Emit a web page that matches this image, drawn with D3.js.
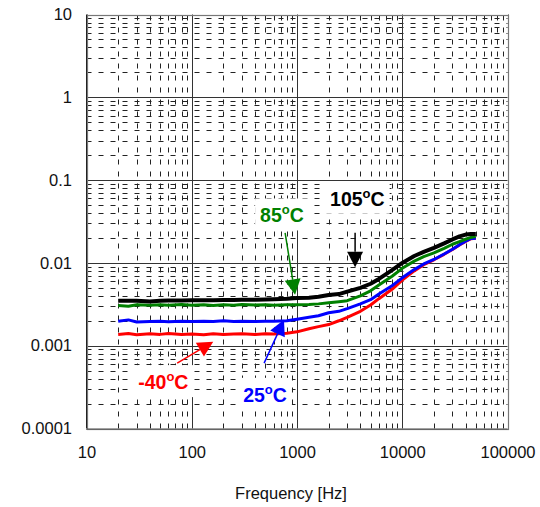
<!DOCTYPE html>
<html>
<head>
<meta charset="utf-8">
<script src="https://cdn.jsdelivr.net/npm/d3@7"></script>
<style>
html,body{margin:0;padding:0;background:#fff;}
svg{display:block;font-family:Arial,"Liberation Sans",sans-serif;}
</style>
</head>
<body>
<svg id="chart" width="540" height="507"></svg>
<script>
// ---- data ----
const freqs = [20,25,30,40,50,60,80,100,130,160,200,250,300,400,500,600,800,
  1000,1300,1600,2000,2500,3000,4000,5000,6000,8000,10000,13000,16000,20000,25000,30000,35000,40000,45000,50000];
const thd105 = [0.00348,0.00350,0.00349,0.00342,0.00350,0.00351,0.00352,0.00353,0.00354,0.00355,0.00356,0.00357,0.00358,0.00360,0.00362,0.00364,0.00368,
  0.00376,0.0038,0.0039,0.0041,0.0042,0.0045,0.0050,0.0056,0.0064,0.0082,0.0100,0.0121,0.0136,0.0152,0.0172,0.0192,0.0209,0.0220,0.0223,0.0223];
const thd85 = [0.00305,0.00300,0.00312,0.00308,0.00313,0.00307,0.00314,0.00309,0.00312,0.00306,0.00313,0.00309,0.00314,0.00310,0.00313,0.00309,0.00312,
  0.00312,0.00315,0.0032,0.0033,0.0034,0.0035,0.0040,0.0046,0.0054,0.0069,0.0086,0.0105,0.0119,0.0132,0.0150,0.0168,0.0181,0.0193,0.0203,0.0209];
const thd25 = [0.00197,0.00205,0.00193,0.00196,0.00197,0.00195,0.00197,0.00196,0.00198,0.00196,0.00200,0.00196,0.00197,0.00196,0.00197,0.00197,0.00200,
  0.00209,0.0022,0.0023,0.0025,0.0026,0.0028,0.0032,0.0036,0.0042,0.0053,0.0066,0.0083,0.0097,0.0110,0.0128,0.0146,0.0166,0.0183,0.0197,0.0199];
const thdM40 = [0.00137,0.00140,0.00136,0.00139,0.00137,0.00140,0.00137,0.00138,0.00136,0.00139,0.00137,0.00138,0.00139,0.00137,0.00139,0.00138,0.00141,
  0.00147,0.0016,0.0017,0.0018,0.0020,0.0022,0.0026,0.0031,0.0037,0.0048,0.0062,0.0080,0.0095,0.0109,0.0127,0.0145,0.0165,0.0182,0.0196,0.0198];

const xTickValues = [10,100,1000,10000,100000];
const xTickLabels = ["10","100","1000","10000","100000"];
const yTickValues = [0.0001,0.001,0.01,0.1,1,10];
const yTickLabels = ["0.0001","0.001","0.01","0.1","1","10"];

const seriesNames = ["-40","25","85","105"];
const seriesColors = ["#ff0000","#0000ff","#008000","#000000"];
const seriesValues = [thdM40, thd25, thd85, thd105];

// annotation labels (text anchor in data units) and arrows (from -> to, data units)
const annotLabel = ["-40","25","85","105"];
const annotTextF = [31, 308, 446, 2061];
const annotTextV = [0.000299, 0.00021, 0.0308, 0.0490];
const arrowFromF = [72.7, 487, 771, 3565];
const arrowFromV = [0.000616, 0.000616, 0.0231, 0.0231];
const arrowToF = [160, 752, 959, 3565];
const arrowToV = [0.001114, 0.002055, 0.00412, 0.00889];

// ---- layout ----
const svg = d3.select("#chart");
const L = 86.5, R = 507.5, T = 14.5, B = 428.5;
const x = d3.scaleLog().domain([10,100000]).range([L,R]);
const y = d3.scaleLog().domain([0.0001,10]).range([B,T]);

// minor grid
const minorX = [], minorY = [];
for (let d = 10; d < 100000; d *= 10) for (let k = 2; k <= 9; k++) minorX.push(d*k);
for (let d = 0.0001; d < 9; d *= 10) for (let k = 2; k <= 9; k++) minorY.push(d*k);

const g = svg.append("g");
g.selectAll(".mh").data(minorY).join("line")
  .attr("x1", L).attr("x2", R)
  .attr("y1", d => Math.round(y(d))+0.5).attr("y2", d => Math.round(y(d))+0.5)
  .attr("stroke", "#222").attr("stroke-width", 1).attr("stroke-dasharray", "5,7");
g.selectAll(".mv").data(minorX).join("line")
  .attr("y1", B).attr("y2", T)
  .attr("x1", d => Math.round(x(d))+0.5).attr("x2", d => Math.round(x(d))+0.5)
  .attr("stroke", "#222").attr("stroke-width", 1).attr("stroke-dasharray", "5,7");
// major grid
g.selectAll(".Mh").data(yTickValues).join("line")
  .attr("x1", L).attr("x2", R)
  .attr("y1", d => Math.round(y(d))+0.5).attr("y2", d => Math.round(y(d))+0.5)
  .attr("stroke", "#333").attr("stroke-width", 1);
g.selectAll(".Mv").data(xTickValues).join("line")
  .attr("y1", B).attr("y2", T)
  .attr("x1", d => Math.round(x(d))+0.5).attr("x2", d => Math.round(x(d))+0.5)
  .attr("stroke", "#333").attr("stroke-width", 1);
// frame
svg.append("rect").attr("x", Math.round(L)+0.5).attr("y", Math.round(T)+0.5)
  .attr("width", Math.round(R)-Math.round(L)).attr("height", Math.round(B)-Math.round(T))
  .attr("fill","none").attr("stroke","#777").attr("stroke-width",1.2);
svg.append("line").attr("x1",L).attr("x2",L).attr("y1",T).attr("y2",B).attr("stroke","#222");
svg.append("line").attr("x1",L).attr("x2",R).attr("y1",B+0.5).attr("y2",B+0.5).attr("stroke","#555");

// axes
const yAxis = d3.axisLeft(y).tickValues(yTickValues).tickSize(0).tickPadding(14.5)
  .tickFormat((d,i) => yTickLabels[i]);
const ya = svg.append("g").attr("transform", `translate(${L},0)`).call(yAxis);
const xAxis = d3.axisBottom(x).tickValues(xTickValues).tickSize(0).tickPadding(18)
  .tickFormat((d,i) => xTickLabels[i]);
const xa = svg.append("g").attr("transform", `translate(0,${B})`).call(xAxis);
[ya, xa].forEach(a => {
  a.select(".domain").remove();
  a.selectAll("text").attr("font-size", 16.5).attr("fill", "#111")
    .attr("font-family", "Arial, 'Liberation Sans', sans-serif");
});

// axis titles
svg.append("text").attr("x", 291).attr("y", 499).attr("text-anchor","middle")
  .attr("font-size", 16.5).attr("fill","#111").text("Frequency [Hz]");
svg.append("clipPath").attr("id","ytclip").append("rect")
  .attr("x",0).attr("y",182).attr("width",60).attr("height",200);
svg.append("text").attr("clip-path","url(#ytclip)")
  .attr("transform", "translate(27,223) rotate(-90)").attr("text-anchor","middle")
  .attr("font-size", 16.5).attr("fill","#111").text("THD+N [%]");

// lines
const line = d3.line().x(d => x(d[0])).y(d => y(d[1]));
const widths = [3, 3, 3, 4];
seriesValues.forEach((vals, s) => {
  svg.append("path").datum(freqs.map((f,i) => [f, vals[i]]))
    .attr("d", line).attr("fill","none")
    .attr("stroke", seriesColors[s]).attr("stroke-width", widths[s])
    .attr("stroke-linejoin","round");
});

// annotations
const annotColors = ["#ff0000","#0000ff","#008000","#000000"];
annotLabel.forEach((lab, i) => {
  const col = annotColors[i];
  const tx = x(annotTextF[i]), ty = y(annotTextV[i]);
  const grp = svg.append("g");
  const bg = grp.append("rect").attr("fill","#fff");
  const t = grp.append("text").attr("x", tx).attr("y", ty)
    .attr("font-size", 19.5).attr("font-weight","bold").attr("fill", col);
  t.append("tspan").text(lab);
  t.append("tspan").attr("font-size", 13).attr("dy", -8).text("o");
  t.append("tspan").attr("font-size", 19.5).attr("dy", 8).text("C");
  const bb = t.node().getBBox();
  bg.attr("x", bb.x-5).attr("y", bb.y-4).attr("width", bb.width+10).attr("height", bb.height+8);

  const x1 = x(arrowFromF[i]), y1 = y(arrowFromV[i]);
  const x2 = x(arrowToF[i]), y2 = y(arrowToV[i]);
  const dx = x2-x1, dy = y2-y1, len = Math.hypot(dx,dy);
  const ux = dx/len, uy = dy/len;
  const hl = 15.5, hw = 8;
  const bx = x2-ux*hl, by = y2-uy*hl;
  svg.append("line").attr("x1",x1).attr("y1",y1).attr("x2",bx).attr("y2",by)
    .attr("stroke",col).attr("stroke-width",1.5);
  svg.append("polygon")
    .attr("points", [[x2,y2],[bx-uy*hw, by+ux*hw],[bx+uy*hw, by-ux*hw]].map(p=>p.join(",")).join(" "))
    .attr("fill", col);
});
</script>
</body>
</html>
